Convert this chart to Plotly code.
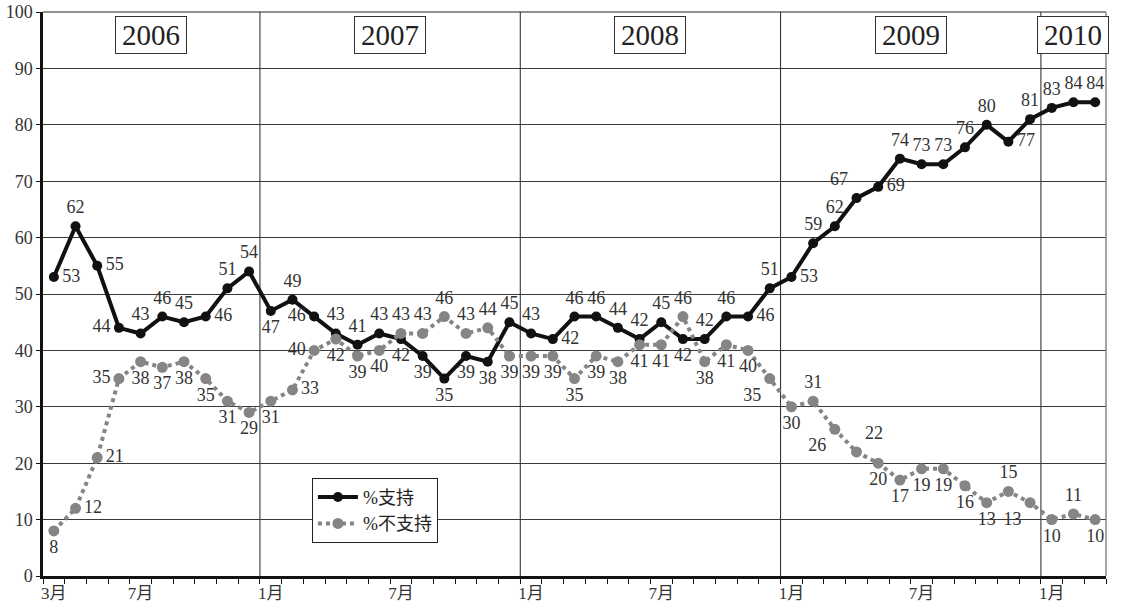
import numpy as np
import pandas as pd
import plotly.graph_objects as go

# Monthly survey, March 2006 - March 2010
months = pd.period_range("2006-03", "2010-03", freq="M")

support = [53, 62, 55, 44, 43, 46, 45, 46, 51, 54,
           47, 49, 46, 43, 41, 43, 42, 39, 35, 39, 38, 45,
           43, 42, 46, 46, 44, 42, 45, 42, 42, 46, 46, 51,
           53, 59, 62, 67, 69, 74, 73, 73, 76, 80, 77, 81,
           83, 84, 84]

oppose = [8, 12, 21, 35, 38, 37, 38, 35, 31, 29,
          31, 33, 40, 42, 39, 40, 43, 43, 46, 43, 44, 39,
          39, 39, 35, 39, 38, 41, 41, 46, 38, 41, 40, 35,
          30, 31, 26, 22, 20, 17, 19, 19, 16, 13, 15, 13,
          10, 11, 10]

series_names = ["%支持", "%不支持"]

# label placement for each point
TC, BC, MR, ML, TL, TR, BL, BR = ("top center", "bottom center", "middle right",
                                  "middle left", "top left", "top right",
                                  "bottom left", "bottom right")
support_pos = [MR, TC, MR, ML, TC, TC, TC, MR, TC, TC,
               BC, TC, ML, TC, TC, TC, BC, BC, BC, BC, BC, TC,
               TC, MR, TC, TC, TC, TC, TC, BC, TC, TC, MR, TC,
               MR, TC, TC, TL, MR, TC, TC, TC, TC, TC, MR, TC,
               TC, TC, TC]
oppose_pos = [BC, MR, MR, ML, BC, BC, BC, BC, BC, BC,
              BC, MR, ML, BC, BC, BC, TC, TC, TC, TC, TC, BC,
              BC, BC, BC, BC, BC, BC, BC, TC, BC, BC, BC, BL,
              BC, TC, BL, TR, BC, BC, BC, BC, BC, BC, TC, BL,
              BC, TC, BC]

x = np.arange(len(months))

# tick labels: first month, every January and July
tick_idx = [i for i, p in enumerate(months) if i == 0 or p.month in (1, 7)]
tick_text = [f"{months[i].month}月" for i in tick_idx]

SERIF = "Liberation Serif, Noto Sans CJK JP"
BLACK = "#111111"
GREY = "#858585"
LABEL = "#333333"

fig = go.Figure()

fig.add_trace(go.Scatter(
    x=x, y=support, mode="lines+markers", name=series_names[0],
    line=dict(color=BLACK, width=4),
    marker=dict(color=BLACK, size=10),
))
fig.add_trace(go.Scatter(
    x=x, y=oppose, mode="lines+markers", name=series_names[1],
    line=dict(color=GREY, width=4, dash="dot"),
    marker=dict(color=GREY, size=11),
))
# value labels, offset by an invisible marker of the same size
for vals, pos in ((support, support_pos), (oppose, oppose_pos)):
    fig.add_trace(go.Scatter(
        x=x, y=vals, mode="markers+text", text=[str(v) for v in vals],
        textposition=pos, showlegend=False, hoverinfo="skip",
        marker=dict(size=12, color="rgba(0,0,0,0)"),
        textfont=dict(family=SERIF, size=18, color=LABEL),
    ))

# year dividers and year captions
years = sorted(set(p.year for p in months))
shapes = []
annotations = []
for yr in years:
    idx = [i for i, p in enumerate(months) if p.year == yr]
    start, end = idx[0] - 0.5, idx[-1] + 0.5
    if yr != years[0]:
        shapes.append(dict(type="line", xref="x", yref="y", x0=start, x1=start,
                           y0=0, y1=100, line=dict(color="#222", width=1), layer="below"))
    annotations.append(dict(
        x=(start + end) / 2, y=0.96, xref="x", yref="paper",
        xanchor="center", yanchor="middle",
        text=str(yr), showarrow=False,
        font=dict(family=SERIF, size=29, color="#222"),
        bordercolor="#333", borderwidth=1, borderpad=2, bgcolor="white",
        width=66,
    ))

# frame top and right
shapes.append(dict(type="line", xref="paper", yref="paper", x0=0, x1=1, y0=1, y1=1,
                   line=dict(color="#222", width=1)))
shapes.append(dict(type="line", xref="paper", yref="paper", x0=1, x1=1, y0=0, y1=1,
                   line=dict(color="#888", width=1.5)))

fig.update_layout(
    width=1121, height=609,
    margin=dict(l=43, r=15, t=12, b=33, autoexpand=False),
    paper_bgcolor="white", plot_bgcolor="white",
    shapes=shapes, annotations=annotations,
    showlegend=True,
    legend=dict(
        x=0.253, y=0.174, xanchor="left", yanchor="top",
        bordercolor="#222", borderwidth=1, bgcolor="white",
        font=dict(family=SERIF, size=18, color="#222"),
        itemwidth=40, tracegroupgap=0,
    ),
    xaxis=dict(
        range=[-0.5, len(months) - 0.5], automargin=False,
        tickmode="array", tickvals=tick_idx, ticktext=tick_text,
        ticks="", showgrid=False, zeroline=False,
        showline=True, linecolor=BLACK, linewidth=2.5,
        tickfont=dict(family=SERIF, size=17, color="#333"),
        minor=dict(ticks="outside", tickmode="linear", tick0=-0.5, dtick=1,
                   ticklen=5, tickcolor=BLACK, tickwidth=1, showgrid=False),
    ),
    yaxis=dict(
        range=[0, 100], dtick=10, ticks="outside", ticklen=4, tickcolor=BLACK,
        automargin=False,
        showgrid=True, gridcolor="#3a3a3a", gridwidth=1, zeroline=False,
        showline=True, linecolor=BLACK, linewidth=2.5,
        tickfont=dict(family=SERIF, size=18, color="#333"),
    ),
)

fig.write_html("out.html")
